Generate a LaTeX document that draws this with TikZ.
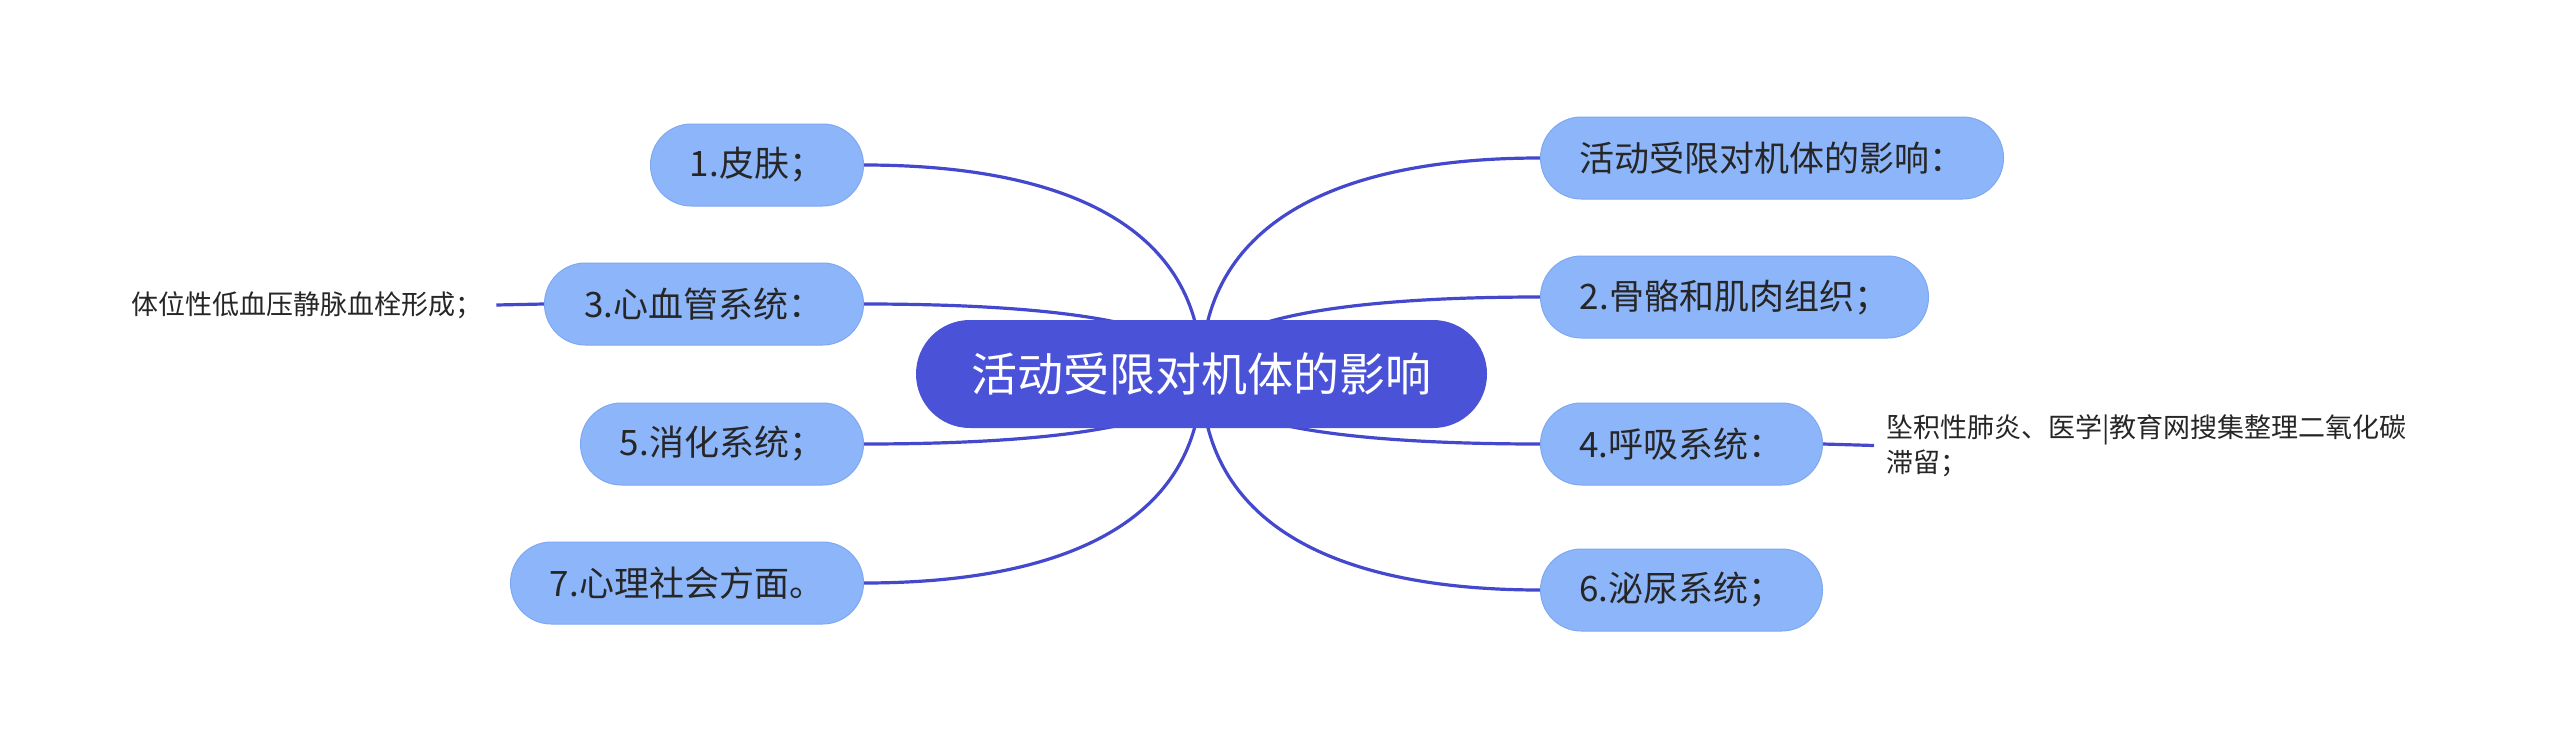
\documentclass[tikz,border=0pt]{standalone}
\usepackage{fontspec}
\setmainfont{Noto Sans CJK SC}
\usetikzlibrary{calc}
\definecolor{linec}{HTML}{4448CC}
\definecolor{cfill}{HTML}{4A52D8}
\definecolor{kfill}{HTML}{8DB5FA}
\definecolor{kdraw}{HTML}{7FA8F2}
\definecolor{txt}{HTML}{262626}
\pgfdeclarelayer{back}\pgfdeclarelayer{bg}\pgfsetlayers{back,bg,main}
\begin{document}
\begin{tikzpicture}[x=1pt,y=-1pt,
 centerbox/.style={fill=cfill, rounded corners=53.9pt, minimum height=108pt, minimum width=571pt, text=white, font=\fontsize{46}{50}\selectfont, inner sep=0pt},
 childbox/.style={fill=kfill, draw=kdraw, line width=1pt, rounded corners=40.9pt, minimum height=82pt, text=txt, font=\fontsize{35}{40}\selectfont, inner sep=0pt},
 leaftext/.style={text=txt, font=\fontsize{27}{35}\selectfont, inner sep=0pt, align=left},
 link/.style={draw=linec, line width=3.2pt},
]
\begin{pgfonlayer}{back}
\fill[white] (0,0) rectangle (2560,747);
\end{pgfonlayer}
\useasboundingbox (0,0) rectangle (2560,747);
\node[centerbox] (C) at (1201.5,374) {活动受限对机体的影响};
\node[childbox, minimum width=463pt, anchor=west] (R1) at (1540,158) {活动受限对机体的影响：};
\node[childbox, minimum width=388pt, anchor=west] (R2) at (1540,297) {2.骨骼和肌肉组织；};
\node[childbox, minimum width=282pt, anchor=west] (R3) at (1540,444) {4.呼吸系统：};
\node[childbox, minimum width=282pt, anchor=west] (R4) at (1540,590) {6.泌尿系统；};
\node[childbox, minimum width=213pt, anchor=east] (L1) at (864,165) {1.皮肤；};
\node[childbox, minimum width=319pt, anchor=east] (L3) at (864,304) {3.心血管系统：};
\node[childbox, minimum width=283pt, anchor=east] (L5) at (864,444) {5.消化系统；};
\node[childbox, minimum width=353pt, anchor=east] (L7) at (864,583) {7.心理社会方面。};
\node[leaftext, anchor=west] (T3) at (131,305) {体位性低血压静脉血栓形成；};
\node[leaftext, anchor=west] (T4) at (1886,445.5) {坠积性肺炎、医学|教育网搜集整理二氧化碳\\滞留；};
\begin{pgfonlayer}{bg}
\foreach \n in {R1,R2,R3,R4}
  \draw[link] (C.center) .. controls ($(C.center |- \n.west)!0.3!(C.center)$) and ($(\n.west)!0.6!(C.center |- \n.west)$) .. (\n.west);
\foreach \n in {L1,L3,L5,L7}
  \draw[link] (C.center) .. controls ($(C.center |- \n.east)!0.3!(C.center)$) and ($(\n.east)!0.6!(C.center |- \n.east)$) .. (\n.east);
\draw[link] (L3.west) -- ([xshift=14pt]T3.east);
\draw[link] (R3.east) -- ([xshift=-12pt]T4.west);
\end{pgfonlayer}
\end{tikzpicture}
\end{document}
